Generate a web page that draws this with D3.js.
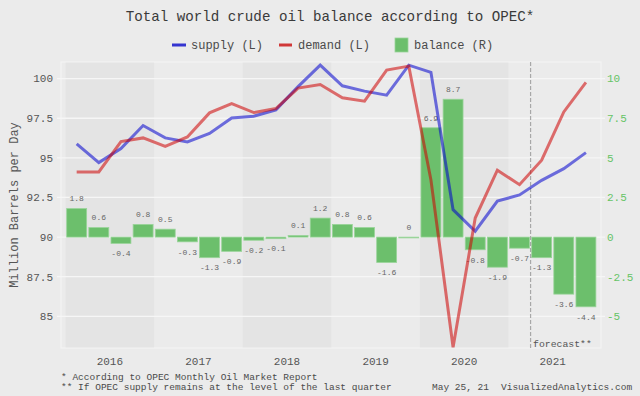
<!DOCTYPE html>
<html>
<head>
<meta charset="utf-8">
<script src="https://cdn.jsdelivr.net/npm/d3@7"></script>
<style>
  body { margin: 0; background: #ebebeb; }
  svg { display: block; font-family: "Liberation Mono", "DejaVu Sans Mono", monospace; }
</style>
</head>
<body>
<div id="chart"></div>
<script>
// --- data ---
const quarters = [
  "2016Q1", "2016Q2", "2016Q3", "2016Q4",
  "2017Q1", "2017Q2", "2017Q3", "2017Q4",
  "2018Q1", "2018Q2", "2018Q3", "2018Q4",
  "2019Q1", "2019Q2", "2019Q3", "2019Q4",
  "2020Q1", "2020Q2", "2020Q3", "2020Q4",
  "2021Q1", "2021Q2", "2021Q3", "2021Q4"
];
const years = ["2016", "2017", "2018", "2019", "2020", "2021"];
const supply = [95.88, 94.70, 95.59, 97.04, 96.26, 96.01, 96.54, 97.52,
  97.63, 98.03, 99.50, 100.85, 99.55, 99.21, 98.96, 100.85,
  100.40, 91.73, 90.37, 92.27, 92.66, 93.58, 94.32, 95.33];
const demand = [94.11, 94.11, 96.03, 96.26, 95.73, 96.32, 97.84, 98.43,
  97.86, 98.11, 99.40, 99.63, 98.79, 98.58, 100.54, 100.79,
  93.60, 83.05, 91.20, 94.22, 93.31, 94.85, 97.90, 99.76];
const balance = [1.8, 0.6, -0.4, 0.8, 0.5, -0.3, -1.3, -0.9,
  -0.2, -0.1, 0.1, 1.2, 0.8, 0.6, -1.6, 0,
  6.9, 8.7, -0.8, -1.9, -0.7, -1.3, -3.6, -4.4];
const leftTicks = [85, 87.5, 90, 92.5, 95, 97.5, 100];
const rightTicks = [-5, -2.5, 0, 2.5, 5, 7.5, 10];
const forecastStart = "2021Q2";

const width = 640, height = 396;
const margin = { top: 62, right: 39, bottom: 48, left: 61 };
const plotR = width - margin.right, plotB = height - margin.bottom;

const svg = d3.select("#chart").append("svg")
  .attr("width", width).attr("height", height);

svg.append("rect").attr("width", width).attr("height", height).attr("fill", "#ebebeb");

const x = d3.scaleBand()
  .domain(quarters)
  .range([margin.left + 4.6, plotR - 4])
  .paddingInner(0.1)
  .paddingOuter(0.05);
const step = x.step();
const gap = step * x.paddingInner() / 2;

const yL = d3.scaleLinear().domain([83, 101.05]).range([plotB, margin.top]);
const yR = d3.scaleLinear().domain([-7, 11.05]).range([plotB, margin.top]);

// plot background + alternating year bands
svg.append("rect")
  .attr("x", margin.left).attr("y", margin.top)
  .attr("width", plotR - margin.left).attr("height", plotB - margin.top)
  .attr("fill", "#ebebeb").attr("stroke", "#f4f4f4").attr("stroke-width", 1.2);

svg.append("g").selectAll("rect")
  .data(years.filter((d, i) => i % 2 === 0))
  .join("rect")
  .attr("x", (d) => x(d + "Q1") - gap)
  .attr("y", margin.top + 0.6)
  .attr("width", step * 4)
  .attr("height", plotB - margin.top - 1.2)
  .attr("fill", "#e4e4e4");

// grid lines (shared by both axes)
svg.append("g").selectAll("line")
  .data(leftTicks)
  .join("line")
  .attr("x1", margin.left - 4).attr("x2", plotR + 4)
  .attr("y1", (d) => yL(d)).attr("y2", (d) => yL(d))
  .attr("stroke", "#f6f6f6").attr("stroke-width", 1.3);

// left axis labels
svg.append("g").selectAll("text")
  .data(leftTicks)
  .join("text")
  .attr("x", margin.left - 8)
  .attr("y", (d) => yL(d))
  .attr("dy", "0.35em")
  .attr("text-anchor", "end")
  .attr("fill", "#555")
  .style("font-size", "11px")
  .text((d) => String(d));

// right axis labels
svg.append("g").selectAll("text")
  .data(rightTicks)
  .join("text")
  .attr("x", plotR + 6)
  .attr("y", (d) => yR(d))
  .attr("dy", "0.35em")
  .attr("fill", "#66c466")
  .style("font-size", "11px")
  .text((d) => String(d));

// year labels
svg.append("g").selectAll("text")
  .data(years)
  .join("text")
  .attr("x", (d) => x(d + "Q1") - gap + step * 2)
  .attr("y", 361)
  .attr("dy", "0.35em")
  .attr("text-anchor", "middle")
  .attr("fill", "#555")
  .style("font-size", "11px")
  .text((d) => d);

// y axis title
svg.append("text")
  .attr("transform", "translate(14,205) rotate(-90)")
  .attr("dy", "0.35em")
  .attr("text-anchor", "middle")
  .attr("fill", "#555")
  .style("font-size", "12px")
  .text("Million Barrels per Day");

// balance bars
svg.append("g").selectAll("rect")
  .data(balance)
  .join("rect")
  .attr("x", (d, i) => x(quarters[i]))
  .attr("y", (d) => yR(Math.max(0, d)))
  .attr("width", x.bandwidth())
  .attr("height", (d) => Math.max(0.8, Math.abs(yR(d) - yR(0))))
  .attr("fill", "#6cbf6c")
  .attr("stroke", "#9ad49a")
  .attr("stroke-width", 0.8);

// bar value labels
svg.append("g").selectAll("text")
  .data(balance)
  .join("text")
  .attr("x", (d, i) => x(quarters[i]) + x.bandwidth() / 2)
  .attr("y", (d) => (d >= 0 ? yR(d) - 10 : yR(d) + 10))
  .attr("dy", "0.35em")
  .attr("text-anchor", "middle")
  .attr("fill", "#666")
  .style("font-size", "8px")
  .text((d) => String(d));

// forecast divider
const fx = x(forecastStart) - gap;
svg.append("line")
  .attr("x1", fx).attr("x2", fx)
  .attr("y1", margin.top).attr("y2", plotB)
  .attr("stroke", "#a8a8a8").attr("stroke-width", 1.2)
  .attr("stroke-dasharray", "4,2");
svg.append("text")
  .attr("x", fx + 2.5).attr("y", 343.5)
  .attr("dy", "0.35em")
  .attr("fill", "#555")
  .style("font-size", "9.8px")
  .text("forecast**");

// supply / demand lines
const line = (vals) => d3.line()
  .x((d, i) => x(quarters[i]) + x.bandwidth() / 2)
  .y((d) => yL(d))(vals);

svg.append("path")
  .attr("d", line(supply))
  .attr("fill", "none").attr("stroke", "#0000cd")
  .attr("stroke-opacity", 0.55).attr("stroke-width", 3);
svg.append("path")
  .attr("d", line(demand))
  .attr("fill", "none").attr("stroke", "#cd0000")
  .attr("stroke-opacity", 0.55).attr("stroke-width", 3);

// title
svg.append("text")
  .attr("x", 330).attr("y", 16)
  .attr("dy", "0.35em")
  .attr("text-anchor", "middle")
  .attr("fill", "#3a3a3a")
  .style("font-size", "14.2px")
  .text("Total world crude oil balance according to OPEC*");

// legend
const legend = svg.append("g").style("font-size", "12px").attr("fill", "#4a4a4a");
legend.append("line").attr("x1", 172).attr("x2", 186).attr("y1", 45).attr("y2", 45)
  .attr("stroke", "#3434d0").attr("stroke-width", 3);
legend.append("text").attr("x", 191).attr("y", 45).attr("dy", "0.35em").text("supply (L)");
legend.append("line").attr("x1", 279).attr("x2", 292).attr("y1", 45).attr("y2", 45)
  .attr("stroke", "#d03838").attr("stroke-width", 3);
legend.append("text").attr("x", 298).attr("y", 45).attr("dy", "0.35em").text("demand (L)");
legend.append("rect").attr("x", 395).attr("y", 38).attr("width", 13).attr("height", 14)
  .attr("fill", "#6cbf6c").attr("stroke", "#9ad49a").attr("stroke-width", 0.8);
legend.append("text").attr("x", 414).attr("y", 45).attr("dy", "0.35em").text("balance (R)");

// footer notes
const foot = svg.append("g").style("font-size", "9.5px").attr("fill", "#4a4a4a");
foot.append("text").attr("x", 61).attr("y", 377).attr("dy", "0.35em")
  .text("* According to OPEC Monthly Oil Market Report");
foot.append("text").attr("x", 61).attr("y", 387).attr("dy", "0.35em")
  .text("** If OPEC supply remains at the level of the last quarter");
foot.append("text").attr("x", 432).attr("y", 387).attr("dy", "0.35em")
  .text("May 25, 21");
foot.append("text").attr("x", 501).attr("y", 387).attr("dy", "0.35em")
  .text("VisualizedAnalytics.com");
</script>
</body>
</html>
